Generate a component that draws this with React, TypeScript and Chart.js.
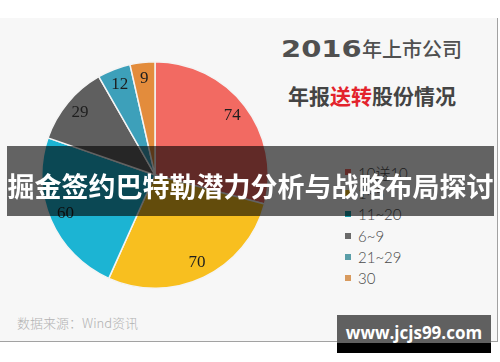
import React, { useEffect, useRef } from "react";
import { Chart, registerables } from "chart.js";

Chart.register(...registerables);

const categories = ["10送10", "1~5", "11~20", "6~9", "21~29", "30"];
const values = [74, 70, 60, 29, 12, 9];
const sliceColors = ["#f26a62", "#f8bf1f", "#1cb4d3", "#5f5f5f", "#3da0ba", "#e38c3c"];
const legendColors = ["#f26a62", "#f8bf1f", "#1a9ca9", "#6a6a6a", "#5a9ea8", "#d89a5e"];

const titleYear = "2016";
const titleRest = "年上市公司";
const subtitleA = "年报";
const subtitleRed = "送转";
const subtitleB = "股份情况";
const bannerText = "掘金签约巴特勒潜力分析与战略布局探讨";
const sourceText = "数据来源：Wind资讯";
const watermark = "www.jcjs99.com";

const sliceLabels = {
  id: "sliceLabels",
  afterDatasetsDraw(chart: any) {
    const ctx = chart.ctx;
    const meta = chart.getDatasetMeta(0);
    const data = chart.data.datasets[0].data;
    ctx.save();
    ctx.font = '17px "Liberation Serif"';
    ctx.fillStyle = "#1e1e1e";
    ctx.textAlign = "center";
    ctx.textBaseline = "middle";
    meta.data.forEach((arc: any, i: number) => {
      const p = arc.getProps(["x", "y", "startAngle", "endAngle", "outerRadius"], true);
      const mid = (p.startAngle + p.endAngle) / 2;
      const r = p.outerRadius * 0.86;
      ctx.fillText(String(data[i]), p.x + Math.cos(mid) * r, p.y + Math.sin(mid) * r);
    });
    ctx.restore();
  },
};

export default function App() {
  const ref = useRef<HTMLCanvasElement | null>(null);
  useEffect(() => {
    if (!ref.current) return;
    const chart = new Chart(ref.current, {
      type: "pie",
      data: {
        labels: categories,
        datasets: [
          {
            data: values,
            backgroundColor: sliceColors,
            borderColor: "#f4f4f4",
            borderWidth: 1.5,
          },
        ],
      },
      options: {
        animation: false,
        responsive: false,
        maintainAspectRatio: false,
        layout: { padding: 0 },
        plugins: { legend: { display: false }, tooltip: { enabled: false } },
      },
      plugins: [sliceLabels],
    });
    return () => chart.destroy();
  }, []);

  return (
    <div
      style={{
        position: "fixed",
        left: 0,
        top: 0,
        width: 500,
        height: 362,
        background: "#ffffff",
        overflow: "hidden",
        fontFamily: '"Noto Sans CJK SC", sans-serif',
      }}
    >
      <div
        style={{
          position: "absolute",
          left: 0,
          top: 18,
          width: 497,
          height: 323,
          background: "#f7f7f7",
          borderRight: "1.5px solid #a2a2a2",
          borderBottom: "1.5px solid #a2a2a2",
        }}
      />
      <canvas
        ref={ref}
        width={228}
        height={228}
        style={{ position: "absolute", left: 41, top: 61, width: 228, height: 228 }}
      />
      <div
        style={{
          position: "absolute",
          left: 281,
          top: 33,
          whiteSpace: "nowrap",
          color: "#505050",
          lineHeight: "32px",
        }}
      >
        <span
          style={{
            display: "inline-block",
            width: 81,
            fontFamily: '"DejaVu Sans"',
            fontWeight: 700,
            fontSize: 23,
          }}
        >
          <span style={{ display: "inline-block", transform: "scaleX(1.26)", transformOrigin: "0 0" }}>
            {titleYear}
          </span>
        </span>
        <span style={{ fontFamily: '"Noto Sans CJK SC"', fontWeight: 500, fontSize: 20 }}>{titleRest}</span>
      </div>
      <div
        style={{
          position: "absolute",
          left: 288,
          top: 82,
          whiteSpace: "nowrap",
          color: "#444",
          fontSize: 21,
          fontWeight: 700,
          lineHeight: "26px",
        }}
      >
        <span>{subtitleA}</span>
        <span style={{ color: "#e3232c" }}>{subtitleRed}</span>
        <span>{subtitleB}</span>
      </div>
      {categories.map((c, i) => (
        <div
          key={c}
          style={{
            position: "absolute",
            left: 345,
            top: 172 + i * 21.2 - 10,
            height: 20,
            display: "flex",
            alignItems: "center",
            whiteSpace: "nowrap",
          }}
        >
          <span style={{ width: 6, height: 6, background: legendColors[i], display: "inline-block" }} />
          <span
            style={{
              marginLeft: 7,
              fontFamily: 'Lato, "Noto Sans CJK SC"',
              fontWeight: 300,
              fontSize: 15,
              color: "#4a4a4a",
            }}
          >
            {c}
          </span>
        </div>
      ))}
      <div
        style={{
          position: "absolute",
          left: 7,
          top: 146,
          width: 487,
          height: 70,
          background: "rgba(0,0,0,0.6)",
          color: "#fff",
          fontWeight: 700,
          fontSize: 27,
          display: "flex",
          alignItems: "center",
          justifyContent: "center",
          whiteSpace: "nowrap",
          paddingTop: 8,
          boxSizing: "border-box",
        }}
      >
        {bannerText}
      </div>
      <div
        style={{
          position: "absolute",
          left: 17,
          top: 314,
          fontSize: 13,
          fontWeight: 300,
          color: "#b2b2b2",
          whiteSpace: "nowrap",
          lineHeight: "18px",
        }}
      >
        {sourceText}
      </div>
      <div
        style={{
          position: "absolute",
          left: 337,
          top: 315,
          width: 154,
          height: 38,
          background: "linear-gradient(#606060 0, #606060 28px, #000 28px, #000 38px)",
        }}
      >
        <div
          style={{
            position: "absolute",
            left: 0,
            width: 154,
            top: 6,
            textAlign: "center",
            color: "#fff",
            fontFamily: '"Open Sans"',
            fontWeight: 700,
            fontSize: 17,
            lineHeight: "24px",
          }}
        >
          {watermark}
        </div>
      </div>
    </div>
  );
}
